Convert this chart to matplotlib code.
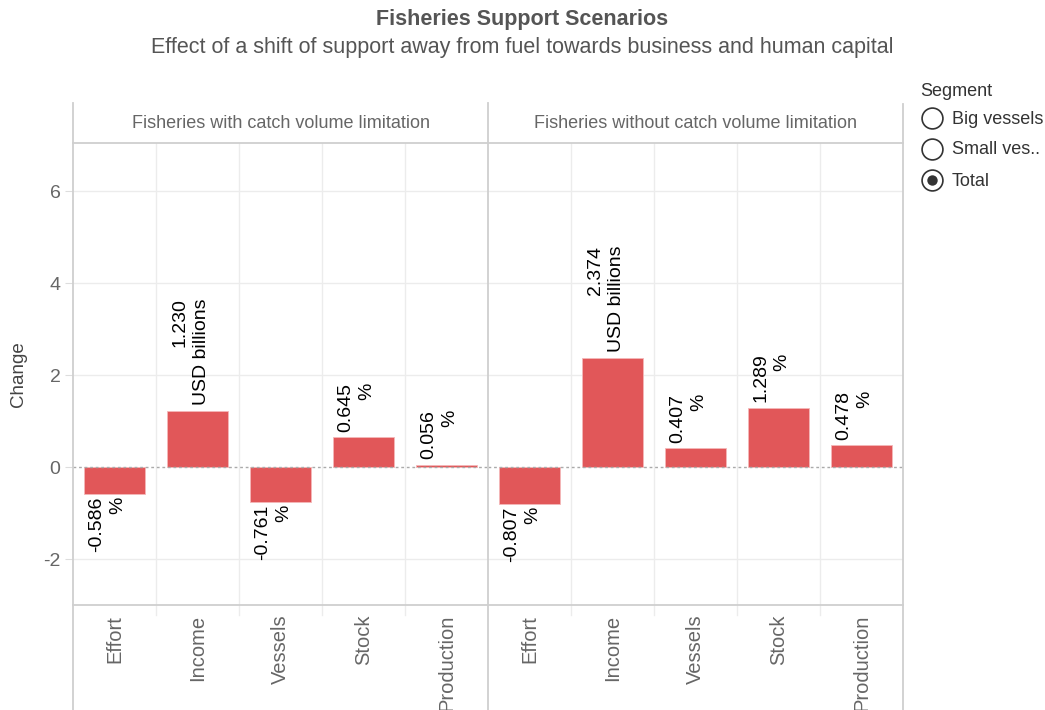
import matplotlib
matplotlib.use("Agg")

import matplotlib.pyplot as plt
from matplotlib.lines import Line2D
import numpy as np

plt.rcParams["font.family"] = ["Liberation Sans", "DejaVu Sans"]
plt.rcParams["axes.unicode_minus"] = False

# data
categories = ["Effort", "Income", "Vessels", "Stock", "Production"]
with_limit = [-0.586, 1.230, -0.761, 0.645, 0.056]
without_limit = [-0.807, 2.374, 0.407, 1.289, 0.478]
units = ["%", "USD billions", "%", "%", "%"]
panel_titles = ["Fisheries with catch volume limitation",
                "Fisheries without catch volume limitation"]
segments = ["Big vessels", "Small ves..", "Total"]

W, H = 1045, 710
BAR = "#E15759"
GRID = "#ececec"
FRAME = "#cfcfcf"
TXT = "#666666"


def rect(x0, y0, x1, y1):
    return [x0 / W, 1 - y1 / H, (x1 - x0) / W, (y1 - y0) / H]


def fx(x):
    return x / W


def fy(y):
    return 1 - y / H


fig = plt.figure(figsize=(W / 100, H / 100), dpi=100)

axL = fig.add_axes(rect(73, 143, 488, 605))
axR = fig.add_axes(rect(488, 143, 903, 605), sharey=axL)

x = np.arange(len(categories))
for ax, vals, title in [(axL, with_limit, panel_titles[0]),
                        (axR, without_limit, panel_titles[1])]:
    ax.set_xlim(-0.5, len(categories) - 0.5)
    ax.set_ylim(-3.0, 7.05)
    for s in ax.spines.values():
        s.set_visible(False)
    for yv in [-2, 2, 4, 6]:
        ax.axhline(yv, color=GRID, lw=1, zorder=0)
    for b in np.arange(0.5, len(categories) - 0.5, 1):
        ax.axvline(b, ymin=-0.022, ymax=1, color=GRID, lw=1, zorder=0,
                   clip_on=False)
    ax.axhline(0, color="#aaaaaa", lw=1, ls=(0, (2, 2)), zorder=3)
    ax.bar(x, vals, width=0.74, color=BAR, edgecolor="#f4b8b9", lw=0.6,
           zorder=2)
    for xi, v, u in zip(x, vals, units):
        lab = "{:.3f}\n{}".format(v, u)
        if v >= 0:
            ax.annotate(lab, (xi, v), xytext=(-5, 4),
                        textcoords="offset points", rotation=90,
                        ha="center", va="bottom", multialignment="right",
                        fontsize=14, color="black", linespacing=1.3)
        else:
            ax.annotate(lab, (xi, v), xytext=(-5, -2),
                        textcoords="offset points", rotation=90,
                        ha="center", va="top", multialignment="right",
                        fontsize=14, color="black", linespacing=1.3)
    ax.set_xticks(x)
    ax.set_xticklabels(categories, rotation=90, va="top", ha="center",
                       fontsize=14.5, color=TXT)
    ax.tick_params(axis="x", length=0, pad=7)
    ax.set_title(title, fontsize=13, color=TXT, pad=11)

axL.set_yticks([-2, 0, 2, 4, 6])
axL.tick_params(axis="y", length=6, color="#dddddd", labelsize=14,
                labelcolor=TXT, pad=3)
axR.tick_params(axis="y", left=False, labelleft=False)
fig.text(fx(18), fy(374), "Change", rotation=90, ha="center", va="center",
         fontsize=13.5, color="#444444")

# frame lines
frame = [((73, 73), (103, 710)), ((488, 488), (103, 710)),
         ((903, 903), (104, 710)), ((73, 903), (143, 143)),
         ((73, 903), (605, 605))]
for xs, ys in frame:
    fig.add_artist(Line2D([fx(xs[0]), fx(xs[1])], [fy(ys[0]), fy(ys[1])],
                          color=FRAME, lw=1.3, transform=fig.transFigure))

# titles
fig.text(fx(522), fy(20), "Fisheries Support Scenarios", ha="center",
         va="center", fontsize=15.5, fontweight="bold", color="#555555")
fig.text(fx(522), fy(47), "Effect of a shift of support away from fuel "
         "towards business and human capital", ha="center", va="center",
         fontsize=15.5, color="#555555")

# legend (radio buttons)
fig.text(fx(920), fy(91), "Segment", ha="left", va="center", fontsize=13,
         color="#333333")
for i, seg in enumerate(segments):
    yy = 118 + 31 * i
    fig.add_artist(Line2D([fx(932)], [fy(yy)], marker="o", markersize=15,
                          markerfacecolor="white", markeredgecolor="#333333",
                          markeredgewidth=1.2, transform=fig.transFigure))
    if seg == "Total":
        fig.add_artist(Line2D([fx(932)], [fy(yy)], marker="o", markersize=7.5,
                              markerfacecolor="#333333", markeredgecolor="none",
                              transform=fig.transFigure))
    fig.text(fx(952), fy(yy + 1), seg, ha="left", va="center", fontsize=13,
             color="#333333")

plt.savefig("out.png", dpi=100)
